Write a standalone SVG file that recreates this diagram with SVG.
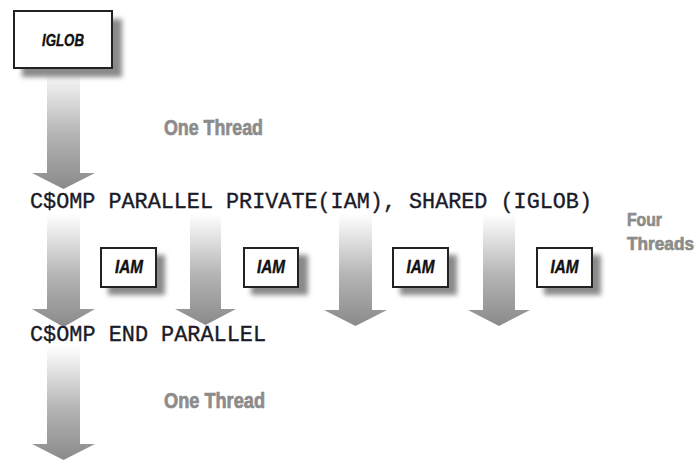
<svg xmlns="http://www.w3.org/2000/svg" width="699" height="460" viewBox="0 0 699 460">
  <defs>
    <linearGradient id="arrowFill" x1="0" y1="0" x2="0" y2="1">
      <stop offset="0" stop-color="#ffffff"/>
      <stop offset="0.55" stop-color="#b4b4b4"/>
      <stop offset="1" stop-color="#8a8a8a"/>
    </linearGradient>
    <filter id="soft" x="-30%" y="-30%" width="160%" height="160%">
      <feGaussianBlur stdDeviation="2.5"/>
    </filter>
  </defs>
  <style>
    .box { fill: #ffffff; stroke: #222222; stroke-width: 2; }
    .shadow { fill: #8a8a8a; filter: url(#soft); }
    .arrow { fill: url(#arrowFill); }
    .label { font-family: "Liberation Sans Narrow", "Liberation Sans", "DejaVu Sans", sans-serif; font-stretch: condensed; font-weight: bold; fill: #8c8c8c; stroke: #8c8c8c; stroke-width: 0.7; font-size: 22px; }
    .side { font-size: 18.5px; }
    .var { font-family: "Liberation Sans Narrow", "Liberation Sans", "DejaVu Sans", sans-serif; font-stretch: condensed; font-weight: bold; font-style: italic; fill: #111111; stroke: #111111; stroke-width: 0.4; text-anchor: middle; }
    .code { font-family: "Liberation Mono", "Courier New", monospace; font-size: 22px; fill: #1a1a28; stroke: #1a1a28; stroke-width: 0.35; }
  </style>

  <!-- flow arrows -->
  <g id="connectors">
    <!-- serial part before the parallel region -->
    <path class="arrow" d="M47,68 H80 V173 H95 L63.5,189 L32,173 H47 Z"/>
    <!-- four threads inside the parallel region -->
    <path class="arrow" d="M47,214 H80 V309 H95 L63.5,327 L32,309 H47 Z"/>
    <path class="arrow" d="M190,214 H221 V309 H236 L205.5,325 L175,309 H190 Z"/>
    <path class="arrow" d="M339,214 H372 V310 H387 L355.5,326 L324,310 H339 Z"/>
    <path class="arrow" d="M483,214 H515 V310 H530 L499,326 L468,310 H483 Z"/>
    <!-- serial part after the parallel region -->
    <path class="arrow" d="M47,346 H80 V444 H95 L63.5,460 L32,444 H47 Z"/>
  </g>

  <!-- shared variable -->
  <g id="iglob">
    <rect class="shadow" x="22" y="19" width="100" height="58"/>
    <rect class="box" x="14" y="11" width="98" height="57"/>
    <text class="var" x="63" y="45.5" font-size="17" textLength="42" lengthAdjust="spacingAndGlyphs">IGLOB</text>
  </g>

  <!-- private copies, one per thread -->
  <g id="iam1">
    <rect class="shadow" x="108" y="255" width="57" height="40"/>
    <rect class="box" x="101" y="248" width="55" height="39"/>
    <text class="var" x="129" y="272.5" font-size="18" textLength="28" lengthAdjust="spacingAndGlyphs">IAM</text>
  </g>
  <g id="iam2">
    <rect class="shadow" x="251" y="255" width="57" height="40"/>
    <rect class="box" x="244" y="248" width="54" height="39"/>
    <text class="var" x="271" y="272.5" font-size="18" textLength="28" lengthAdjust="spacingAndGlyphs">IAM</text>
  </g>
  <g id="iam3">
    <rect class="shadow" x="400" y="255" width="57" height="40"/>
    <rect class="box" x="393" y="248" width="55" height="39"/>
    <text class="var" x="420.5" y="272.5" font-size="18" textLength="28" lengthAdjust="spacingAndGlyphs">IAM</text>
  </g>
  <g id="iam4">
    <rect class="shadow" x="544" y="255" width="57" height="40"/>
    <rect class="box" x="537" y="248" width="55" height="39"/>
    <text class="var" x="564.5" y="272.5" font-size="18" textLength="28" lengthAdjust="spacingAndGlyphs">IAM</text>
  </g>

  <!-- directives -->
  <g id="parallel-directive">
    <text class="code" x="30" y="208" textLength="562" lengthAdjust="spacingAndGlyphs">C$OMP PARALLEL PRIVATE(IAM), SHARED (IGLOB)</text>
  </g>
  <g id="end-directive">
    <text class="code" x="30" y="341" textLength="236" lengthAdjust="spacingAndGlyphs">C$OMP END PARALLEL</text>
  </g>

  <!-- thread-count labels -->
  <g id="label-one-top">
    <text class="label" x="164" y="135" textLength="99" lengthAdjust="spacingAndGlyphs">One Thread</text>
  </g>
  <g id="label-four">
    <text class="label side" x="627" y="226" textLength="35" lengthAdjust="spacingAndGlyphs">Four</text>
    <text class="label side" x="627" y="250" textLength="67" lengthAdjust="spacingAndGlyphs">Threads</text>
  </g>
  <g id="label-one-bottom">
    <text class="label" x="164" y="408" textLength="101" lengthAdjust="spacingAndGlyphs">One Thread</text>
  </g>
</svg>
